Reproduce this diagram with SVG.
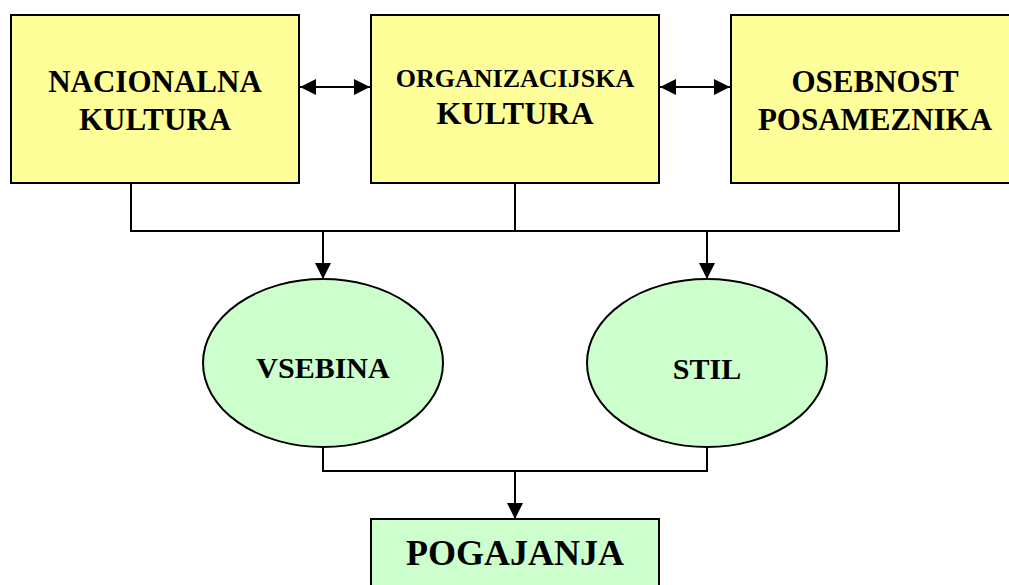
<svg xmlns="http://www.w3.org/2000/svg" width="1009" height="585" viewBox="0 0 1009 585">
<style>
  .box { fill: #FFFF99; stroke: #000; stroke-width: 2; }
  .gbox { fill: #CCFFCC; stroke: #000; stroke-width: 2; }
  .t { font-family: "Liberation Serif", "Times New Roman", serif; font-weight: bold; fill: #000; text-anchor: middle; }
  .c { fill: none; stroke: #000; stroke-width: 2; }
</style>
<defs>
  <marker id="ah" viewBox="0 0 16 16" refX="16" refY="8" markerWidth="16" markerHeight="16" markerUnits="userSpaceOnUse" orient="auto-start-reverse">
    <path d="M0,0 L16,8 L0,16 Z" fill="#000"/>
  </marker>
</defs>
<rect width="1009" height="585" fill="#fff"/>
<g id="connectors">
  <line class="c" x1="300" y1="87" x2="370" y2="87" marker-start="url(#ah)" marker-end="url(#ah)"/>
  <line class="c" x1="660" y1="87" x2="730" y2="87" marker-start="url(#ah)" marker-end="url(#ah)"/>
  <path class="c" d="M131,183 V231 H899 V183 M515,183 V231"/>
  <line class="c" x1="323" y1="231" x2="323" y2="279" marker-end="url(#ah)"/>
  <line class="c" x1="707" y1="231" x2="707" y2="279" marker-end="url(#ah)"/>
  <path class="c" d="M323,447 V471 H707 V447"/>
  <line class="c" x1="515" y1="471" x2="515" y2="519" marker-end="url(#ah)"/>
</g>
<g id="nacionalna">
  <rect class="box" x="11" y="15" width="288" height="168"/>
  <text class="t" x="155" y="92" font-size="31">NACIONALNA</text>
  <text class="t" x="155" y="130" font-size="31">KULTURA</text>
</g>
<g id="organizacijska">
  <rect class="box" x="371" y="15" width="288" height="168"/>
  <text class="t" x="515" y="87" font-size="26">ORGANIZACIJSKA</text>
  <text class="t" x="515" y="124" font-size="32">KULTURA</text>
</g>
<g id="osebnost">
  <rect class="box" x="731" y="15" width="288" height="168"/>
  <text class="t" x="875" y="92" font-size="31">OSEBNOST</text>
  <text class="t" x="875" y="130" font-size="31">POSAMEZNIKA</text>
</g>
<g id="vsebina">
  <ellipse class="gbox" cx="323" cy="363" rx="120" ry="84"/>
  <text class="t" x="323" y="378" font-size="30">VSEBINA</text>
</g>
<g id="stil">
  <ellipse class="gbox" cx="707" cy="363" rx="120" ry="84"/>
  <text class="t" x="707" y="379" font-size="30">STIL</text>
</g>
<g id="pogajanja">
  <rect class="gbox" x="371" y="519" width="288" height="100"/>
  <text class="t" x="515" y="565" font-size="36">POGAJANJA</text>
</g>
</svg>
